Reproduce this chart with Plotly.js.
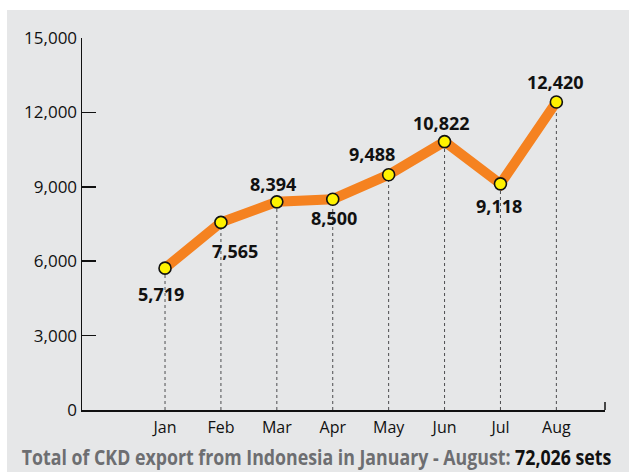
<!DOCTYPE html>
<html>
<head>
<meta charset="utf-8">
<script src="https://cdn.plot.ly/plotly-3.0.1.min.js"></script>
<style>html,body{margin:0;padding:0;background:#fff;}#chart{width:629px;height:472px;}</style>
</head>
<body>
<div id="chart"></div>
<script>
// ---- data ----
const months = ["Jan", "Feb", "Mar", "Apr", "May", "Jun", "Jul", "Aug"];
const exportsSets = [5719, 7565, 8394, 8500, 9488, 10822, 9118, 12420];
const yTicks = [0, 3000, 6000, 9000, 12000, 15000];
const footerLabel = "Total of CKD export from Indonesia in January - August:";
const footerTotal = "72,026 sets";

// ---- label placement (style only) ----
const labelXShift = [-4, 14, -4, 1, -17, -3, -1, -1];
const labelYShift = [-26, -29, 18, -19, 21, 19, -22, 20];

const idx = months.map((m, i) => i);

// drop lines built from the data
const dropX = [], dropY = [];
idx.forEach(i => { dropX.push(i, i, null); dropY.push(0, exportsSets[i], null); });

const fmt = v => v.toLocaleString('en-US');

const traces = [
  {x: dropX, y: dropY, mode: 'lines', type: 'scatter', hoverinfo: 'skip',
   line: {color: '#4d4d4f', width: 1, dash: 'dot'}},
  {x: idx, y: exportsSets, mode: 'lines', type: 'scatter',
   line: {color: '#f58220', width: 10}},
  {x: idx, y: exportsSets, mode: 'markers', type: 'scatter',
   marker: {color: '#fff200', size: 12, line: {color: '#111', width: 1.6}}}
];

const annotations = idx.map(i => ({
  x: i, y: exportsSets[i], xref: 'x', yref: 'y',
  text: '<b>' + fmt(exportsSets[i]) + '</b>', showarrow: false,
  xshift: labelXShift[i], yshift: labelYShift[i],
  font: {family: 'Open Sans, Noto Sans, sans-serif', size: 18, color: '#111'}
}));

annotations.push({
  xref: 'paper', yref: 'paper', x: 0.449, y: -0.125, xanchor: 'center', yanchor: 'middle',
  showarrow: false,
  text: '<b>' + footerLabel + ' <span style="color:#111">' + footerTotal + '</span></b>',
  font: {family: 'Open Sans, sans-serif', size: 21, color: '#6d6e71'}
});

const layout = {
  width: 629, height: 472,
  margin: {l: 82, r: 24, t: 38, b: 62, pad: 0},
  paper_bgcolor: '#ffffff',
  plot_bgcolor: 'rgba(0,0,0,0)',
  showlegend: false,
  xaxis: {
    range: [-1.485, 7.87], tickvals: idx, ticktext: months,
    showgrid: false, zeroline: false, showline: true, linecolor: '#111', linewidth: 1.5,
    ticks: '', ticklabelstandoff: 2,
    tickfont: {family: 'Open Sans, sans-serif', size: 16, color: '#111'}, fixedrange: true
  },
  yaxis: {
    range: [0, 15000], tickvals: yTicks, tickformat: ',d',
    showgrid: false, zeroline: false, showline: true, linecolor: '#111', linewidth: 1.5,
    ticks: 'inside', ticklen: 14, tickwidth: 1.5, tickcolor: '#111',
    tickfont: {family: 'Open Sans, sans-serif', size: 17, color: '#111'}, fixedrange: true
  },
  shapes: [
    {type: 'rect', xref: 'paper', yref: 'paper', x0: -0.1434, x1: 1.05, y0: -0.17, y1: 1.0753,
     fillcolor: '#e6e7e8', line: {width: 0}, layer: 'below'},
    {type: 'line', xref: 'paper', yref: 'paper', x0: 1, x1: 1, y0: 0, y1: 0.0215,
     line: {color: '#111', width: 1.5}}
  ],
  annotations: annotations
};

Plotly.newPlot('chart', traces, layout, {displayModeBar: false, staticPlot: true}).then(gd => {
  // condense the footer line horizontally to the reference's width (condensed typeface look)
  const texts = gd.querySelectorAll('.annotation-text');
  const t = texts[texts.length - 1];
  if (t) {
    const bb = t.getBBox();
    const target = 590;
    if (bb.width > 0) {
      const s = target / bb.width;
      const cx = bb.x + bb.width / 2;
      t.setAttribute('transform', 'translate(' + cx + ',0) scale(' + s + ',1) translate(' + (-cx) + ',0)');
    }
  }
});
</script>
</body>
</html>
